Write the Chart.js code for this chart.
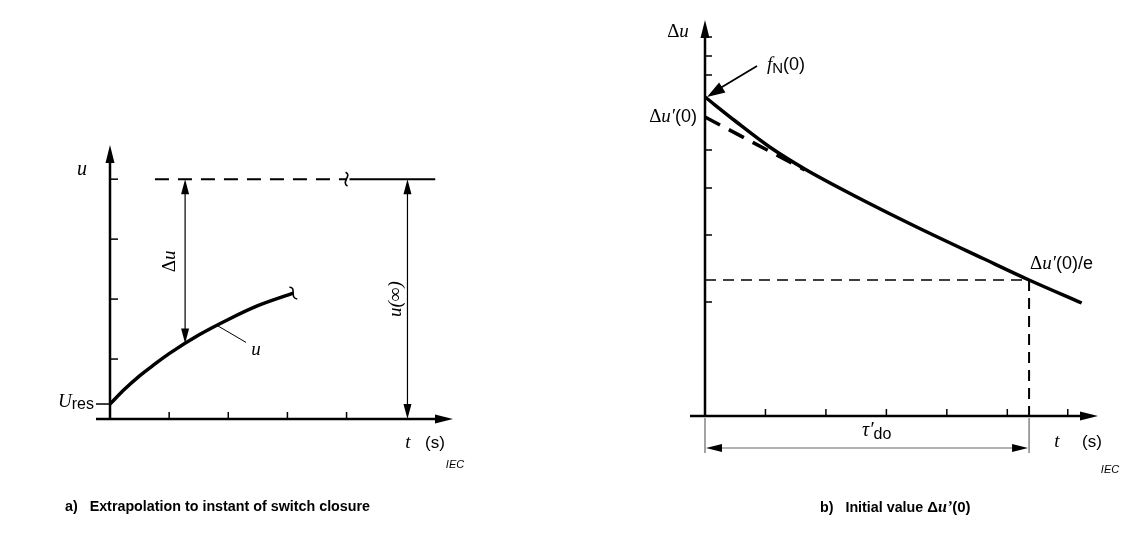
<!DOCTYPE html>
<html>
<head>
<meta charset="utf-8">
<script src="https://cdn.jsdelivr.net/npm/chart.js@4"></script>
<style>
body { margin: 0; background: #fff; }
#page { position: relative; width: 1126px; height: 538px; overflow: hidden; background: #fff; }
#boxA { position: absolute; left: 0; top: 0; }
#boxB { position: absolute; left: 563px; top: 0; }
.caption { position: absolute; top: 498px; font: bold 14.3px "Liberation Sans", Arial, sans-serif; white-space: pre; color: #000; }
.caption .v { font: bold italic 16px "Liberation Serif", serif; }
.caption .d { font-size: 15px; }
</style>
</head>
<body>
<div id="page">
  <div id="boxA"><canvas id="chartA" width="563" height="538"></canvas></div>
  <div id="boxB"><canvas id="chartB" width="563" height="538"></canvas></div>
  <div class="caption" style="left:65px">a)   Extrapolation to instant of switch closure</div>
  <div class="caption" style="left:820px">b)   Initial value <span class="d">Δ</span><span class="v">u’</span><span class="d">(0)</span></div>
</div>
<script>
// a) voltage u rising from U_res towards u(inf)
var uTime  = [0, 0.25, 0.5, 0.75, 1.0, 1.5, 2.0, 2.5, 3.1];
var uValue = [0.25, 0.50, 0.72, 0.91, 1.09, 1.40, 1.66, 1.89, 2.10];
var uRes = 0.25;
var uInf = 4;
var uInfDash = [0.76, 4.0];     // dashed part of the u(inf) line
var uInfSolid = [4.05, 5.5];    // solid part after the break
var aTicksX = [1, 2, 3, 4];
var aTicksY = [1, 2, 3, 4];
var deltaAt = 1.27;             // t where the delta-u arrow is drawn
var uInfAt = 5.03;              // t where the u(inf) arrow is drawn
var uLabelAt = 1.81;            // t where the "u" leader touches the curve

// b) decay of delta-u and its initial tangent
var bTime  = [0, 0.5, 1.07, 1.65, 2.51, 3.5, 4.6, 5.36, 6.23];
var bDelta = [31.9, 29.5, 26.9, 24.7, 21.9, 18.9, 15.75, 13.6, 11.3];
var tangentTime  = [0, 1.65];
var tangentDelta = [29.9, 24.6];
var fN0 = 31.9;
var du0 = 29.9;
var duE = 13.6;       // delta-u'(0)/e
var tauDo = 5.36;     // tau'do
var bTicksX = [1, 2, 3, 4, 5, 6];
var bTicksY = [11.4, 18.1, 22.8, 26.6, 34.1, 36.0, 37.9];

var SERIF = '"Liberation Serif", "Times New Roman", serif';
var SANS = '"Liberation Sans", Arial, sans-serif';

function pts(xs, ys) {
    return xs.map(function (x, i) { return { x: x, y: ys[i] }; });
}

function interp(xs, ys, x) {
    for (var i = 1; i < xs.length; i++) {
        if (x <= xs[i]) {
            var f = (x - xs[i - 1]) / (xs[i] - xs[i - 1]);
            return ys[i - 1] + f * (ys[i] - ys[i - 1]);
        }
    }
    return ys[ys.length - 1];
}

function line(ctx, x1, y1, x2, y2) {
    ctx.beginPath();
    ctx.moveTo(x1, y1);
    ctx.lineTo(x2, y2);
    ctx.stroke();
}

// filled arrow head, tip at (x, y), pointing along angle
function arrowHead(ctx, x, y, angle, len, half) {
    ctx.save();
    ctx.translate(x, y);
    ctx.rotate(angle);
    ctx.beginPath();
    ctx.moveTo(0, 0);
    ctx.lineTo(-len, -half);
    ctx.lineTo(-len, half);
    ctx.closePath();
    ctx.fill();
    ctx.restore();
}

function breakMark(ctx, x, y, angle) {
    ctx.save();
    ctx.translate(x, y);
    ctx.rotate(angle);
    ctx.lineWidth = 1.6;
    ctx.beginPath();
    ctx.moveTo(-1, -7);
    ctx.bezierCurveTo(6, -4, -6, 3, 1, 7);
    ctx.stroke();
    ctx.restore();
}

// mixed-font text: runs of {t, f, dy}
function runs(ctx, x, y, parts, align) {
    var w = 0;
    parts.forEach(function (p) { ctx.font = p.f; w += ctx.measureText(p.t).width; });
    var cx = x;
    if (align === 'center') cx = x - w / 2;
    if (align === 'right') cx = x - w;
    ctx.textAlign = 'left';
    ctx.textBaseline = 'middle';
    parts.forEach(function (p) {
        ctx.font = p.f;
        ctx.fillText(p.t, cx, y + (p.dy || 0));
        cx += ctx.measureText(p.t).width;
    });
}

function baseOptions(pad, xMax, yMax) {
    return {
        responsive: false,
        animation: false,
        events: [],
        layout: { padding: pad },
        plugins: { legend: { display: false }, tooltip: { enabled: false } },
        scales: {
            x: { type: 'linear', min: 0, max: xMax, display: false },
            y: { type: 'linear', min: 0, max: yMax, display: false }
        }
    };
}

var decorA = {
    id: 'decorA',
    afterDraw: function (chart) {
        var ctx = chart.ctx;
        var sx = chart.scales.x, sy = chart.scales.y;
        var X = function (v) { return sx.getPixelForValue(v); };
        var Y = function (v) { return sy.getPixelForValue(v); };
        ctx.save();
        ctx.strokeStyle = '#000';
        ctx.fillStyle = '#000';

        // axes
        ctx.lineWidth = 2.5;
        line(ctx, X(0) - 14, Y(0), sx.right - 14, Y(0));
        line(ctx, X(0), Y(0), X(0), sy.top + 14);
        arrowHead(ctx, sx.right, Y(0), 0, 18, 4.5);
        arrowHead(ctx, X(0), sy.top, -Math.PI / 2, 18, 4.5);

        ctx.lineWidth = 1.5;
        aTicksX.forEach(function (v) { line(ctx, X(v), Y(0), X(v), Y(0) - 7); });
        aTicksY.forEach(function (v) { line(ctx, X(0), Y(v), X(0) + 8, Y(v)); });
        line(ctx, X(0) - 14, Y(uRes), X(0), Y(uRes));

        // break marks
        breakMark(ctx, X(uInfDash[1]), Y(uInf), 0);
        var uEnd = uValue[uValue.length - 1];
        breakMark(ctx, X(uTime[uTime.length - 1]), Y(uEnd), -0.45);

        // delta-u and u(inf) dimension arrows
        ctx.lineWidth = 1.2;
        var uAt = interp(uTime, uValue, deltaAt);
        line(ctx, X(deltaAt), Y(uInf) + 10, X(deltaAt), Y(uAt) - 10);
        arrowHead(ctx, X(deltaAt), Y(uInf), -Math.PI / 2, 15, 4);
        arrowHead(ctx, X(deltaAt), Y(uAt), Math.PI / 2, 15, 4);
        line(ctx, X(uInfAt), Y(uInf) + 10, X(uInfAt), Y(0) - 10);
        arrowHead(ctx, X(uInfAt), Y(uInf), -Math.PI / 2, 15, 4);
        arrowHead(ctx, X(uInfAt), Y(0), Math.PI / 2, 15, 4);

        // leader for the curve label
        var lx = X(uLabelAt), ly = Y(interp(uTime, uValue, uLabelAt));
        ctx.lineWidth = 1;
        line(ctx, lx, ly, lx + 29, ly + 17);

        // labels
        runs(ctx, X(0) - 28, sy.top + 25, [{ t: 'u', f: 'italic 20px ' + SERIF }], 'center');
        runs(ctx, X(0) - 16, Y(uRes) - 2, [
            { t: 'U', f: 'italic 19px ' + SERIF },
            { t: 'res', f: '16px ' + SANS, dy: 3 }
        ], 'right');
        runs(ctx, lx + 39, ly + 25, [{ t: 'u', f: 'italic 19px ' + SERIF }], 'center');

        ctx.save();
        ctx.translate(X(deltaAt) - 15, (Y(uInf) + Y(uAt)) / 2);
        ctx.rotate(-Math.PI / 2);
        runs(ctx, 0, 0, [{ t: 'Δ', f: '19px ' + SERIF }, { t: 'u', f: 'italic 19px ' + SERIF }], 'center');
        ctx.restore();

        ctx.save();
        ctx.translate(X(uInfAt) - 11, (Y(uInf) + Y(0)) / 2);
        ctx.rotate(-Math.PI / 2);
        runs(ctx, 0, 0, [{ t: 'u(∞)', f: 'italic 19px ' + SERIF }], 'center');
        ctx.restore();

        runs(ctx, sx.right - 45, Y(0) + 24, [{ t: 't', f: 'italic 19px ' + SERIF }], 'center');
        runs(ctx, sx.right - 18, Y(0) + 24, [{ t: '(s)', f: '17px ' + SANS }], 'center');
        runs(ctx, sx.right + 2, Y(0) + 46, [{ t: 'IEC', f: 'italic 11px ' + SANS }], 'center');
        ctx.restore();
    }
};

var decorB = {
    id: 'decorB',
    afterDraw: function (chart) {
        var ctx = chart.ctx;
        var sx = chart.scales.x, sy = chart.scales.y;
        var X = function (v) { return sx.getPixelForValue(v); };
        var Y = function (v) { return sy.getPixelForValue(v); };
        ctx.save();
        ctx.strokeStyle = '#000';
        ctx.fillStyle = '#000';

        // axes
        ctx.lineWidth = 2.5;
        line(ctx, X(0) - 15, Y(0), sx.right - 14, Y(0));
        line(ctx, X(0), Y(0), X(0), sy.top + 14);
        arrowHead(ctx, sx.right, Y(0), 0, 18, 4.5);
        arrowHead(ctx, X(0), sy.top, -Math.PI / 2, 18, 4.5);

        ctx.lineWidth = 1.5;
        bTicksX.forEach(function (v) { line(ctx, X(v), Y(0), X(v), Y(0) - 7); });
        bTicksY.forEach(function (v) { line(ctx, X(0), Y(v), X(0) + 7, Y(v)); });

        // tau'do dimension
        ctx.strokeStyle = '#666';
        ctx.fillStyle = '#000';
        ctx.lineWidth = 1.2;
        line(ctx, X(0), Y(0) + 2, X(0), Y(0) + 37);
        line(ctx, X(tauDo), Y(0) + 2, X(tauDo), Y(0) + 37);
        line(ctx, X(0) + 12, Y(0) + 32, X(tauDo) - 12, Y(0) + 32);
        arrowHead(ctx, X(0) + 1, Y(0) + 32, Math.PI, 16, 4);
        arrowHead(ctx, X(tauDo) - 1, Y(0) + 32, 0, 16, 4);

        // f_N(0) pointer
        ctx.strokeStyle = '#000';
        ctx.lineWidth = 1.8;
        line(ctx, X(0) + 52, Y(fN0) - 31, X(0) + 12, Y(fN0) - 7);
        arrowHead(ctx, X(0) + 2, Y(fN0), Math.atan2(31, -50), 18, 6);

        // labels
        runs(ctx, X(0) - 27, sy.top + 12, [{ t: 'Δ', f: '19px ' + SERIF }, { t: 'u', f: 'italic 19px ' + SERIF }], 'center');
        runs(ctx, X(0) + 62, Y(fN0) - 32, [
            { t: 'f', f: 'italic 19px ' + SERIF },
            { t: 'N', f: '15px ' + SANS, dy: 4 },
            { t: '(0)', f: '18px ' + SANS }
        ], 'left');
        runs(ctx, X(0) - 8, Y(du0), [
            { t: 'Δ', f: '19px ' + SERIF },
            { t: 'u′', f: 'italic 19px ' + SERIF },
            { t: '(0)', f: '18px ' + SANS }
        ], 'right');
        runs(ctx, X(tauDo) + 1, Y(duE) - 16, [
            { t: 'Δ', f: '19px ' + SERIF },
            { t: 'u′', f: 'italic 19px ' + SERIF },
            { t: '(0)/e', f: '18px ' + SANS }
        ], 'left');
        runs(ctx, X(0) + 157, Y(0) + 15, [
            { t: 'τ′', f: 'italic 20px ' + SERIF },
            { t: 'do', f: '16px ' + SANS, dy: 4 }
        ], 'left');

        runs(ctx, sx.right - 41, Y(0) + 26, [{ t: 't', f: 'italic 19px ' + SERIF }], 'center');
        runs(ctx, sx.right - 6, Y(0) + 26, [{ t: '(s)', f: '17px ' + SANS }], 'center');
        runs(ctx, sx.right + 12, Y(0) + 54, [{ t: 'IEC', f: 'italic 11px ' + SANS }], 'center');
        ctx.restore();
    }
};

new Chart(document.getElementById('chartA'), {
    type: 'line',
    data: {
        datasets: [
            {
                data: pts(uTime, uValue),
                borderColor: '#000', borderWidth: 3.5, pointRadius: 0,
                cubicInterpolationMode: 'monotone', clip: false
            },
            {
                data: pts(uInfDash, [uInf, uInf]),
                borderColor: '#000', borderWidth: 2, borderDash: [14, 9], pointRadius: 0, clip: false
            },
            {
                data: pts(uInfSolid, [uInf, uInf]),
                borderColor: '#000', borderWidth: 2, pointRadius: 0, clip: false
            }
        ]
    },
    options: baseOptions({ left: 110, right: 110, top: 145, bottom: 119 }, 5.8, 4.57),
    plugins: [decorA]
});

new Chart(document.getElementById('chartB'), {
    type: 'line',
    data: {
        datasets: [
            {
                data: pts(bTime, bDelta),
                borderColor: '#000', borderWidth: 3.5, pointRadius: 0,
                cubicInterpolationMode: 'monotone', clip: false
            },
            {
                data: pts(tangentTime, tangentDelta),
                borderColor: '#000', borderWidth: 3.5, borderDash: [17, 10], pointRadius: 0, clip: false
            },
            {
                data: pts([0, tauDo], [duE, duE]),
                borderColor: '#000', borderWidth: 1.6, borderDash: [11, 7], pointRadius: 0, clip: false
            },
            {
                data: pts([tauDo, tauDo], [duE, 0]),
                borderColor: '#000', borderWidth: 2, borderDash: [11, 7], pointRadius: 0, clip: false
            }
        ]
    },
    options: baseOptions({ left: 142, right: 28, top: 20, bottom: 122 }, 6.5, 39.6),
    plugins: [decorB]
});
</script>
</body>
</html>
